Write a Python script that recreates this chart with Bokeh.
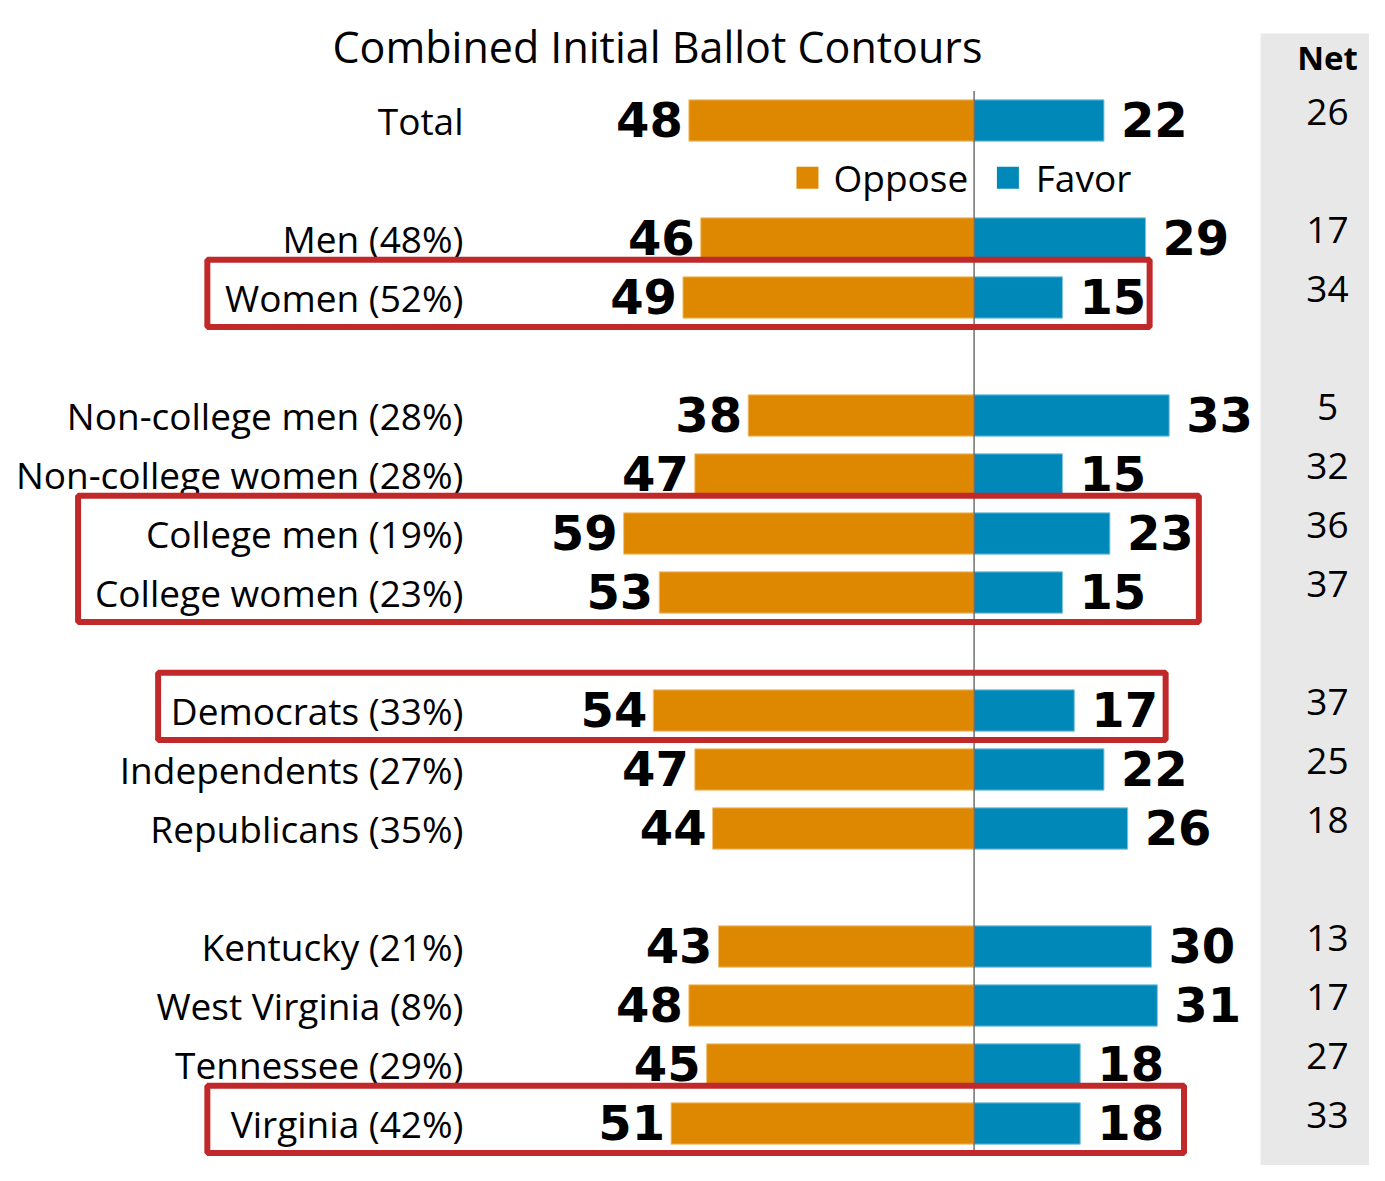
from bokeh.plotting import figure
from bokeh.models import Range1d, ColumnDataSource
from bokeh.core.properties import value
from bokeh.embed import file_html
from bokeh.resources import INLINE

# ---------------- data ----------------
categories = ["Total", "Men (48%)", "Women (52%)",
              "Non-college men (28%)", "Non-college women (28%)",
              "College men (19%)", "College women (23%)",
              "Democrats (33%)", "Independents (27%)", "Republicans (35%)",
              "Kentucky (21%)", "West Virginia (8%)", "Tennessee (29%)", "Virginia (42%)"]
row_slots = [0, 2, 3, 5, 6, 7, 8, 10, 11, 12, 14, 15, 16, 17]
oppose = [48, 46, 49, 38, 47, 59, 53, 54, 47, 44, 43, 48, 45, 51]
favor = [22, 29, 15, 33, 15, 23, 15, 17, 22, 26, 30, 31, 18, 18]
net = [26, 17, 34, 5, 32, 36, 37, 37, 25, 18, 13, 17, 27, 33]
series_names = ["Oppose", "Favor"]
title_text = "Combined Initial Ballot Contours"
net_header = "Net"
# highlighted groups: (first category, last category)
highlighted = [("Women (52%)", "Women (52%)"),
               ("College men (19%)", "College women (23%)"),
               ("Democrats (33%)", "Democrats (33%)"),
               ("Virginia (42%)", "Virginia (42%)")]

# ---------------- style ----------------
ORANGE = "#DE8700"
BLUE = "#0088B8"
RED = "#C0282A"
GREY_BAND = "#E8E8E8"
LABEL_FONT = value("Open Sans")
NUM_FONT = value("DejaVu Sans")

W, H = 1369, 1165
PX_PER_UNIT = 5.93
ZERO_PX = 973.0      # figure x of the zero line
ROW_PX = 59.0        # figure px per row slot
ROW0_PX = 120.0      # figure y of first row

x_start = -ZERO_PX / PX_PER_UNIT
x_end = (W - ZERO_PX) / PX_PER_UNIT
y_top = -ROW0_PX / ROW_PX
y_bottom = (H - ROW0_PX) / ROW_PX

p = figure(width=W, height=H, output_backend="svg", toolbar_location=None,
           x_range=Range1d(x_start, x_end), y_range=Range1d(y_bottom, y_top),
           min_border=0, outline_line_color=None)
p.axis.visible = False
p.grid.visible = False
p.background_fill_color = "white"
p.border_fill_color = "white"

# net column band
p.quad(left=[48.4], right=[x_end + 5], top=[-1.475], bottom=[y_bottom + 1],
       fill_color=GREY_BAND, line_color=None)

src = ColumnDataSource(dict(
    cat=categories, y=row_slots,
    opp_neg=[-v for v in oppose], fav=favor,
    opp_txt=[str(v) for v in oppose], fav_txt=[str(v) for v in favor],
    net_txt=[str(v) for v in net],
))

bar_h = 0.70
p.hbar(y="y", left="opp_neg", right=0, height=bar_h, source=src,
       fill_color=ORANGE, line_color="#F2C27A", line_width=1)
p.hbar(y="y", left=0, right="fav", height=bar_h, source=src,
       fill_color=BLUE, line_color="#7FC3DC", line_width=1)

# zero line
p.segment(x0=[0.1], x1=[0.1], y0=[-0.5], y1=[17.5], line_color="#707070", line_width=1.5)

# category labels
p.text(x=-86.0, y="y", text="cat", source=src, text_align="right",
       text_baseline="middle", text_font=LABEL_FONT, text_font_size="37px",
       text_color="black")

# value labels
p.text(x="opp_neg", y="y", text="opp_txt", source=src, text_align="right",
       text_baseline="middle", x_offset=-6, y_offset=-1, text_font=NUM_FONT,
       text_font_style="bold", text_font_size="48px", text_color="black")
p.text(x="fav", y="y", text="fav_txt", source=src, text_align="left",
       text_baseline="middle", x_offset=17, y_offset=-1, text_font=NUM_FONT,
       text_font_style="bold", text_font_size="48px", text_color="black")

# net values
p.text(x=59.7, y="y", text="net_txt", source=src, text_align="center",
       text_baseline="middle", y_offset=-9, text_font=LABEL_FONT,
       text_font_size="37px", text_color="black")
p.text(x=[59.7], y=[-1.07], text=[net_header], text_align="center",
       text_baseline="middle", text_font=LABEL_FONT, text_font_style="bold",
       text_font_size="33px", text_color="black")

# title
p.text(x=[-53.3], y=[(46 - ROW0_PX) / ROW_PX], text=[title_text], text_align="center",
       text_baseline="alphabetic", text_font=LABEL_FONT, text_font_size="43px",
       text_color="black")

# legend
p.scatter(x=[-28.0, 5.8], y=[0.97, 0.97], marker="square", size=22,
          fill_color=[ORANGE, BLUE], line_color=None)
p.text(x=[-23.6, 10.5], y=[0.97, 0.97], text=series_names, text_align="left",
       text_baseline="middle", text_font=LABEL_FONT, text_font_size="37px",
       text_color="black")

# highlight boxes
box_x = {"Women (52%)": (-129.2, 29.7), "College men (19%)": (-151.0, 38.0),
         "Democrats (33%)": (-137.5, 32.4), "Virginia (42%)": (-129.2, 35.5)}
lefts, rights, tops, bottoms = [], [], [], []
for first, last in highlighted:
    r0 = row_slots[categories.index(first)]
    r1 = row_slots[categories.index(last)]
    l, r = box_x[first]
    lefts.append(l); rights.append(r)
    tops.append(r0 - 0.64); bottoms.append(r1 + 0.50)
p.quad(left=lefts, right=rights, top=tops, bottom=bottoms,
       fill_color=None, line_color=RED, line_width=6)

open("out.html", "w").write(file_html(p, INLINE))
